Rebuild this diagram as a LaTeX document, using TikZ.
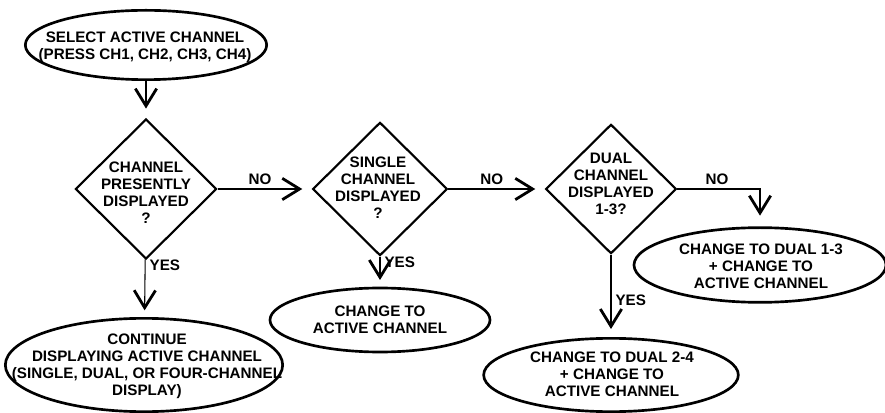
\documentclass[tikz,border=0pt]{standalone}
\usepackage{fontspec}
\setmainfont{Liberation Sans}
\usetikzlibrary{arrows.meta, shapes.geometric}

\tikzset{
  txt/.style={font=\bfseries\fontsize{11.4}{12.75}\selectfont, align=center, inner sep=0pt},
  oval/.style={ellipse, draw, line width=2pt, inner sep=0pt},
  decision/.style={diamond, draw, line width=1.6pt, inner sep=0pt, aspect=1},
  flow/.style={->, line width=0.8pt},
  lbl/.style={font=\bfseries\fontsize{11.4}{12.75}\selectfont, inner sep=3pt},
}

\begin{document}
\begin{tikzpicture}[x=0.75pt, y=-0.75pt, >={Straight Barb[length=13pt, width=16pt, line width=2.1pt]}]
  \useasboundingbox (0,0) rectangle (885,413);
  % start
  \node[oval, minimum width=181pt, minimum height=52pt] (select) at (146,45) {};
  \node[txt] (select-t) at (145,47) {SELECT ACTIVE CHANNEL\\(PRESS CH1, CH2, CH3, CH4)};
  % decisions
  \node[decision, minimum width=106pt, minimum height=105pt] (d1) at (146,189) {};
  \node[txt] (d1-t) at (146,193) {CHANNEL\\PRESENTLY\\DISPLAYED\\?};
  \node[decision, minimum width=101pt, minimum height=100pt] (d2) at (380,189) {};
  \node[txt] (d2-t) at (378,188) {SINGLE\\CHANNEL\\DISPLAYED\\?};
  \node[decision, minimum width=98pt, minimum height=97pt] (d3) at (611,189) {};
  \node[txt] (d3-t) at (611,184) {DUAL\\CHANNEL\\DISPLAYED\\1-3?};
  % results
  \node[oval, minimum width=208pt, minimum height=70pt] (cont) at (144,365) {};
  \node[txt] (cont-t) at (147,366) {CONTINUE\\DISPLAYING ACTIVE CHANNEL\\(SINGLE, DUAL, OR FOUR-CHANNEL\\DISPLAY)};
  \node[oval, minimum width=165pt, minimum height=48pt] (chact) at (380,320) {};
  \node[txt] (chact-t) at (380,320) {CHANGE TO\\ACTIVE CHANNEL};
  \node[oval, minimum width=189pt, minimum height=56pt] (ch13) at (760,265) {};
  \node[txt] (ch13-t) at (761,266) {CHANGE TO DUAL 1-3\\+ CHANGE TO\\ACTIVE CHANNEL};
  \node[oval, minimum width=191pt, minimum height=55pt] (ch24) at (611,375) {};
  \node[txt] (ch24-t) at (612,374) {CHANGE TO DUAL 2-4\\+ CHANGE TO\\ACTIVE CHANNEL};
  % connectors
  \draw[flow, shorten >=7pt] (select) -- (d1);
  \draw[flow, shorten >=7pt] (d1) -- node[lbl, above, pos=0.45] (no1) {NO} (d2);
  \draw[flow, shorten >=7pt] (d2) -- node[lbl, above, pos=0.45] (no2) {NO} (d3);
  \draw[flow, shorten >=8pt] (d3.east) -| node[lbl, above, pos=0.24] (no3) {NO} (ch13.north);
  \draw[flow, shorten >=5pt] (d1) -- node[lbl, right, pos=0.1] (yes1) {YES} (cont);
  \draw[flow, shorten >=5pt] (d2) -- node[lbl, right, pos=0.2] (yes2) {YES} (chact);
  \draw[flow, shorten >=6pt] (d3) -- node[lbl, right, pos=0.55] (yes3) {YES} (ch24);
\end{tikzpicture}
\end{document}
